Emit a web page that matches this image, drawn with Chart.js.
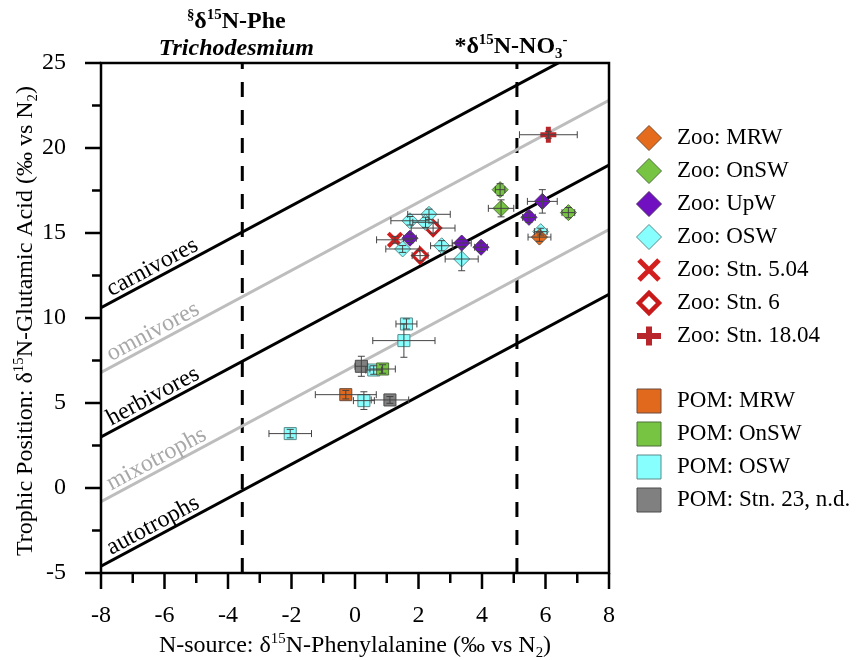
<!DOCTYPE html>
<html>
<head>
<meta charset="utf-8">
<script src="https://cdn.jsdelivr.net/npm/chart.js@4.4.1/dist/chart.umd.min.js"></script>
<style>
  html, body { margin: 0; padding: 0; background: #fff; }
</style>
</head>
<body>
<canvas id="chart" width="858" height="660"></canvas>
<script>
// axis ticks
const xTickVals = [-8, -6, -4, -2, 0, 2, 4, 6, 8];
const yTickVals = [-5, 0, 5, 10, 15, 20, 25];

// trophic position lines (end points at x = -8 and x = 8)
const tpLineX = [-8, 8];
const autotrophsY = [-4.6, 11.4];
const mixotrophsY = [-0.8, 15.2];
const herbivoresY = [3.0, 19.0];
const omnivoresY = [6.8, 22.8];
const carnivoresY = [10.6, 26.6];

// reference source values
const pheTrichoX = -3.55;
const no3X = 5.1;

// zooplankton
const zooMrwX = [5.81], zooMrwY = [14.76], zooMrwXe = [0.36], zooMrwYe = [0.25];
const zooOnswX = [4.57, 4.60, 6.72], zooOnswY = [17.55, 16.45, 16.2];
const zooOnswXe = [0.15, 0.4, 0.2], zooOnswYe = [0.35, 0.5, 0.3];
const zooUpwX = [5.90, 5.48, 1.73, 3.36, 3.97], zooUpwY = [16.86, 15.92, 14.69, 14.41, 14.16];
const zooUpwXe = [0.47, 0.2, 0.2, 0.3, 0.2], zooUpwYe = [0.69, 0.3, 0.25, 0.2, 0.25];
const zooOswX = [5.85, 1.73, 2.33, 2.22, 1.50, 2.73, 3.36];
const zooOswY = [15.08, 15.72, 16.1, 15.63, 14.06, 14.25, 13.47];
const zooOswXe = [0.2, 0.6, 0.67, 0.4, 0.53, 0.35, 0.52];
const zooOswYe = [0.2, 0.25, 0.3, 0.3, 0.2, 0.3, 0.69];
const zooStn504X = [1.26], zooStn504Y = [14.6], zooStn504Xe = [0.58], zooStn504Ye = [0.2];
const zooStn6X = [2.46, 2.05], zooStn6Y = [15.29, 13.67], zooStn6Xe = [0.69, 0.25], zooStn6Ye = [0.3, 0.3];
const zooStn1804X = [6.09], zooStn1804Y = [20.78], zooStn1804Xe = [0.91], zooStn1804Ye = [0.2];

// particulate organic matter
const pomMrwX = [-0.29], pomMrwY = [5.49], pomMrwXe = [0.96], pomMrwYe = [0.25];
const pomOnswX = [0.87], pomOnswY = [7.0], pomOnswXe = [0.4], pomOnswYe = [0.25];
const pomOswX = [1.62, 1.54, 0.59, 0.28, -2.04], pomOswY = [9.65, 8.67, 6.94, 5.14, 3.2];
const pomOswXe = [0.33, 0.98, 0.25, 0.33, 0.67], pomOswYe = [0.3, 0.98, 0.25, 0.52, 0.25];
const pomStn23X = [0.20, 1.10], pomStn23Y = [7.16, 5.18], pomStn23Xe = [0.2, 0.59], pomStn23Ye = [0.59, 0.2];

const SERIF = "'Liberation Serif', 'Times New Roman', serif";

function pts(xs, ys, xe, ye) {
  return xs.map((x, i) => ({ x: x, y: ys[i], xe: xe[i], ye: ye[i] }));
}
function seg(xs, ys) {
  return xs.map((x, i) => ({ x: x, y: ys[i] }));
}

const tpLines = [
  { label: 'autotrophs', data: seg(tpLineX, autotrophsY), color: '#000' },
  { label: 'mixotrophs', data: seg(tpLineX, mixotrophsY), color: '#bdbdbd' },
  { label: 'herbivores', data: seg(tpLineX, herbivoresY), color: '#000' },
  { label: 'omnivores', data: seg(tpLineX, omnivoresY), color: '#bdbdbd' },
  { label: 'carnivores', data: seg(tpLineX, carnivoresY), color: '#000' }
];

const series = [
  { label: 'Zoo: MRW', data: pts(zooMrwX, zooMrwY, zooMrwXe, zooMrwYe), style: 'rectRot', fill: '#e46c1c', stroke: '#7a4a2a', lw: 1, r: 8 },
  { label: 'Zoo: OnSW', data: pts(zooOnswX, zooOnswY, zooOnswXe, zooOnswYe), style: 'rectRot', fill: '#76c442', stroke: '#4f6f3a', lw: 1, r: 8 },
  { label: 'Zoo: UpW', data: pts(zooUpwX, zooUpwY, zooUpwXe, zooUpwYe), style: 'rectRot', fill: '#7010c0', stroke: '#4a2a6a', lw: 1, r: 8 },
  { label: 'Zoo: OSW', data: pts(zooOswX, zooOswY, zooOswXe, zooOswYe), style: 'rectRot', fill: '#88ffff', stroke: '#5a8a8a', lw: 1, r: 8 },
  { label: 'Zoo: Stn. 5.04', data: pts(zooStn504X, zooStn504Y, zooStn504Xe, zooStn504Ye), style: 'crossRot', fill: '#d41f1f', stroke: '#d41f1f', lw: 4, r: 9.5 },
  { label: 'Zoo: Stn. 6', data: pts(zooStn6X, zooStn6Y, zooStn6Xe, zooStn6Ye), style: 'rectRot', fill: '#ffffff', stroke: '#c81a1a', lw: 3, r: 7.5 },
  { label: 'Zoo: Stn. 18.04', data: pts(zooStn1804X, zooStn1804Y, zooStn1804Xe, zooStn1804Ye), style: 'cross', fill: '#b8252a', stroke: '#b8252a', lw: 5, r: 8 },
  { label: 'POM: MRW', data: pts(pomMrwX, pomMrwY, pomMrwXe, pomMrwYe), style: 'rect', fill: '#e0691e', stroke: '#6a4a3a', lw: 1, r: 8.5 },
  { label: 'POM: OnSW', data: pts(pomOnswX, pomOnswY, pomOnswXe, pomOnswYe), style: 'rect', fill: '#76c442', stroke: '#4f6f3a', lw: 1, r: 8.5 },
  { label: 'POM: OSW', data: pts(pomOswX, pomOswY, pomOswXe, pomOswYe), style: 'rect', fill: '#88ffff', stroke: '#5a8a8a', lw: 1, r: 8.5 },
  { label: 'POM: Stn. 23, n.d.', data: pts(pomStn23X, pomStn23Y, pomStn23Xe, pomStn23Ye), style: 'rect', fill: '#808080', stroke: '#4a4a4a', lw: 1, r: 8.5 }
];

const datasets = [];
series.forEach(s => datasets.push({
  type: 'scatter', label: s.label, data: s.data, order: 0,
  pointStyle: s.style, pointRadius: s.r, pointBackgroundColor: s.fill,
  pointBorderColor: s.stroke, pointBorderWidth: s.lw, errorBars: true
}));
tpLines.forEach(l => datasets.push({
  type: 'line', label: l.label, data: l.data, order: 10,
  borderColor: l.color, borderWidth: 3, pointRadius: 0, fill: false, tension: 0
}));
[pheTrichoX, no3X].forEach(x => datasets.push({
  type: 'line', label: 'ref', data: seg([x, x], [-5, 25]), order: 10,
  borderColor: '#000', borderWidth: 3, borderDash: [15, 13], pointRadius: 0, fill: false
}));

// text with superscripts / subscripts
function rich(ctx, runs, x, y, size, opts) {
  opts = opts || {};
  const weight = opts.weight || 'normal';
  const fontFor = (r) => {
    const sz = r.k === 'n' ? size : size * 0.62;
    return (r.i ? 'italic ' : '') + weight + ' ' + sz + 'px ' + SERIF;
  };
  let total = 0;
  runs.forEach(r => { ctx.font = fontFor(r); r.w = ctx.measureText(r.t).width; total += r.w; });
  ctx.save();
  ctx.translate(x, y);
  if (opts.rot) ctx.rotate(opts.rot);
  ctx.fillStyle = opts.color || '#000';
  ctx.textBaseline = 'alphabetic';
  ctx.textAlign = 'left';
  let cx = opts.align === 'left' ? 0 : -total / 2;
  runs.forEach(r => {
    ctx.font = fontFor(r);
    const dy = r.k === 'sup' ? -size * 0.36 : (r.k === 'sub' ? size * 0.2 : 0);
    ctx.fillText(r.t, cx, dy);
    cx += r.w;
  });
  ctx.restore();
}

function marker(ctx, style, x, y, r, fill, stroke, lw) {
  ctx.save();
  ctx.beginPath();
  ctx.lineWidth = lw;
  ctx.strokeStyle = stroke;
  ctx.fillStyle = fill;
  if (style === 'rectRot') {
    ctx.moveTo(x - r, y); ctx.lineTo(x, y - r); ctx.lineTo(x + r, y); ctx.lineTo(x, y + r); ctx.closePath();
    ctx.fill(); ctx.stroke();
  } else if (style === 'rect') {
    ctx.rect(x - r, y - r, 2 * r, 2 * r);
    ctx.fill(); ctx.stroke();
  } else if (style === 'crossRot') {
    ctx.moveTo(x - r, y - r); ctx.lineTo(x + r, y + r);
    ctx.moveTo(x + r, y - r); ctx.lineTo(x - r, y + r);
    ctx.stroke();
  } else if (style === 'cross') {
    ctx.moveTo(x - r, y); ctx.lineTo(x + r, y);
    ctx.moveTo(x, y - r * 0.8); ctx.lineTo(x, y + r * 0.8);
    ctx.stroke();
  }
  ctx.restore();
}

const framePlugin = {
  id: 'frame',
  afterDatasetsDraw(chart) {
    const ctx = chart.ctx;
    const xs = chart.scales.x, ys = chart.scales.y;
    const area = chart.chartArea;
    // error bars
    ctx.save();
    ctx.strokeStyle = '#444';
    ctx.lineWidth = 1;
    chart.data.datasets.forEach(ds => {
      if (!ds.errorBars) return;
      ds.data.forEach(p => {
        const px = xs.getPixelForValue(p.x), py = ys.getPixelForValue(p.y);
        const x0 = xs.getPixelForValue(p.x - p.xe), x1 = xs.getPixelForValue(p.x + p.xe);
        const y0 = ys.getPixelForValue(p.y - p.ye), y1 = ys.getPixelForValue(p.y + p.ye);
        ctx.beginPath();
        ctx.moveTo(x0, py); ctx.lineTo(x1, py);
        ctx.moveTo(x0, py - 3.5); ctx.lineTo(x0, py + 3.5);
        ctx.moveTo(x1, py - 3.5); ctx.lineTo(x1, py + 3.5);
        ctx.moveTo(px, y0); ctx.lineTo(px, y1);
        ctx.moveTo(px - 3.5, y0); ctx.lineTo(px + 3.5, y0);
        ctx.moveTo(px - 3.5, y1); ctx.lineTo(px + 3.5, y1);
        ctx.stroke();
      });
    });
    ctx.restore();

    // line labels
    const labelX = -7.6;
    tpLines.forEach(l => {
      const a = l.data[0], b = l.data[1];
      const ax = xs.getPixelForValue(a.x), ay = ys.getPixelForValue(a.y);
      const bx = xs.getPixelForValue(b.x), by = ys.getPixelForValue(b.y);
      const ang = Math.atan2(by - ay, bx - ax);
      const sx = xs.getPixelForValue(labelX);
      const sy = ay + (sx - ax) * (by - ay) / (bx - ax);
      ctx.save();
      ctx.translate(sx, sy);
      ctx.rotate(ang);
      ctx.font = '24px ' + SERIF;
      ctx.fillStyle = l.color === '#000' ? '#000' : '#a8a8a8';
      ctx.textBaseline = 'alphabetic';
      ctx.fillText(l.label, 0, -5);
      ctx.restore();
    });

    // frame
    ctx.save();
    ctx.strokeStyle = '#000';
    ctx.lineWidth = 2.5;
    ctx.strokeRect(area.left, area.top, area.right - area.left, area.bottom - area.top);
    // ticks
    ctx.beginPath();
    for (let v = -8; v <= 8; v += 1) {
      const px = xs.getPixelForValue(v);
      const len = (v % 2 === 0) ? 16 : 10;
      ctx.moveTo(px, area.bottom); ctx.lineTo(px, area.bottom + len);
    }
    for (let v = -5; v <= 25; v += 2.5) {
      const py = ys.getPixelForValue(v);
      const len = (v % 5 === 0) ? 16 : 9;
      ctx.moveTo(area.left, py); ctx.lineTo(area.left - len, py);
    }
    ctx.stroke();
    ctx.restore();

    // axis titles
    rich(ctx, [
      { t: 'N-source: δ', k: 'n' }, { t: '15', k: 'sup' },
      { t: 'N-Phenylalanine (‰ vs N', k: 'n' }, { t: '2', k: 'sub' }, { t: ')', k: 'n' }
    ], (area.left + area.right) / 2, 652, 24);
    rich(ctx, [
      { t: 'Trophic Position: δ', k: 'n' }, { t: '15', k: 'sup' },
      { t: 'N-Glutamic Acid (‰ vs N', k: 'n' }, { t: '2', k: 'sub' }, { t: ')', k: 'n' }
    ], 32, (area.top + area.bottom) / 2 + 3, 24, { rot: -Math.PI / 2 });

    // reference annotations
    const tx = xs.getPixelForValue(pheTrichoX) - 6;
    rich(ctx, [{ t: '§', k: 'sup' }, { t: 'δ', k: 'n' }, { t: '15', k: 'sup' }, { t: 'N-Phe', k: 'n' }], tx, 28, 24, { weight: 'bold' });
    rich(ctx, [{ t: 'Trichodesmium', k: 'n', i: true }], tx, 55, 24, { weight: 'bold' });
    rich(ctx, [{ t: '*δ', k: 'n' }, { t: '15', k: 'sup' }, { t: 'N-NO', k: 'n' }, { t: '3', k: 'sub' }, { t: '-', k: 'sup' }],
      xs.getPixelForValue(no3X) - 6, 53, 24, { weight: 'bold' });

    // legend
    const lx = 649, tx2 = 677;
    const rowsY = [138, 171, 204, 237, 270, 303, 336, 401, 434, 467, 500];
    const legSize = { rectRot: 12.5, rect: 12, crossRot: 10, cross: 12 };
    series.forEach((s, i) => {
      const y = rowsY[i];
      let lw = s.lw;
      if (s.style === 'rectRot' && s.fill === '#ffffff') lw = 4.5;
      if (s.style === 'crossRot') lw = 5;
      if (s.style === 'cross') lw = 6;
      const r = (s.fill === '#ffffff') ? 10 : legSize[s.style];
      marker(ctx, s.style, lx, y, r, s.fill, s.stroke, lw);
      ctx.save();
      ctx.font = '23px ' + SERIF;
      ctx.fillStyle = '#000';
      ctx.textBaseline = 'middle';
      ctx.fillText(s.label, tx2, y);
      ctx.restore();
    });
  }
};

new Chart(document.getElementById('chart'), {
  type: 'scatter',
  data: { datasets: datasets },
  options: {
    responsive: false,
    animation: false,
    devicePixelRatio: 1,
    layout: { padding: { left: 0, right: 249, top: 63, bottom: 0 } },
    plugins: { legend: { display: false }, tooltip: { enabled: false } },
    scales: {
      x: {
        type: 'linear', min: -8, max: 8,
        grid: { display: false }, border: { display: false },
        ticks: { font: { family: SERIF, size: 24 }, color: '#000', padding: 20 },
        afterBuildTicks: s => { s.ticks = xTickVals.map(v => ({ value: v })); },
        afterFit: s => { s.height = 87; }
      },
      y: {
        type: 'linear', min: -5, max: 25,
        grid: { display: false }, border: { display: false },
        ticks: { font: { family: SERIF, size: 24 }, color: '#000', padding: 27 },
        afterBuildTicks: s => { s.ticks = yTickVals.map(v => ({ value: v })); },
        afterFit: s => { s.width = 101; }
      }
    }
  },
  plugins: [framePlugin]
});
</script>
</body>
</html>
